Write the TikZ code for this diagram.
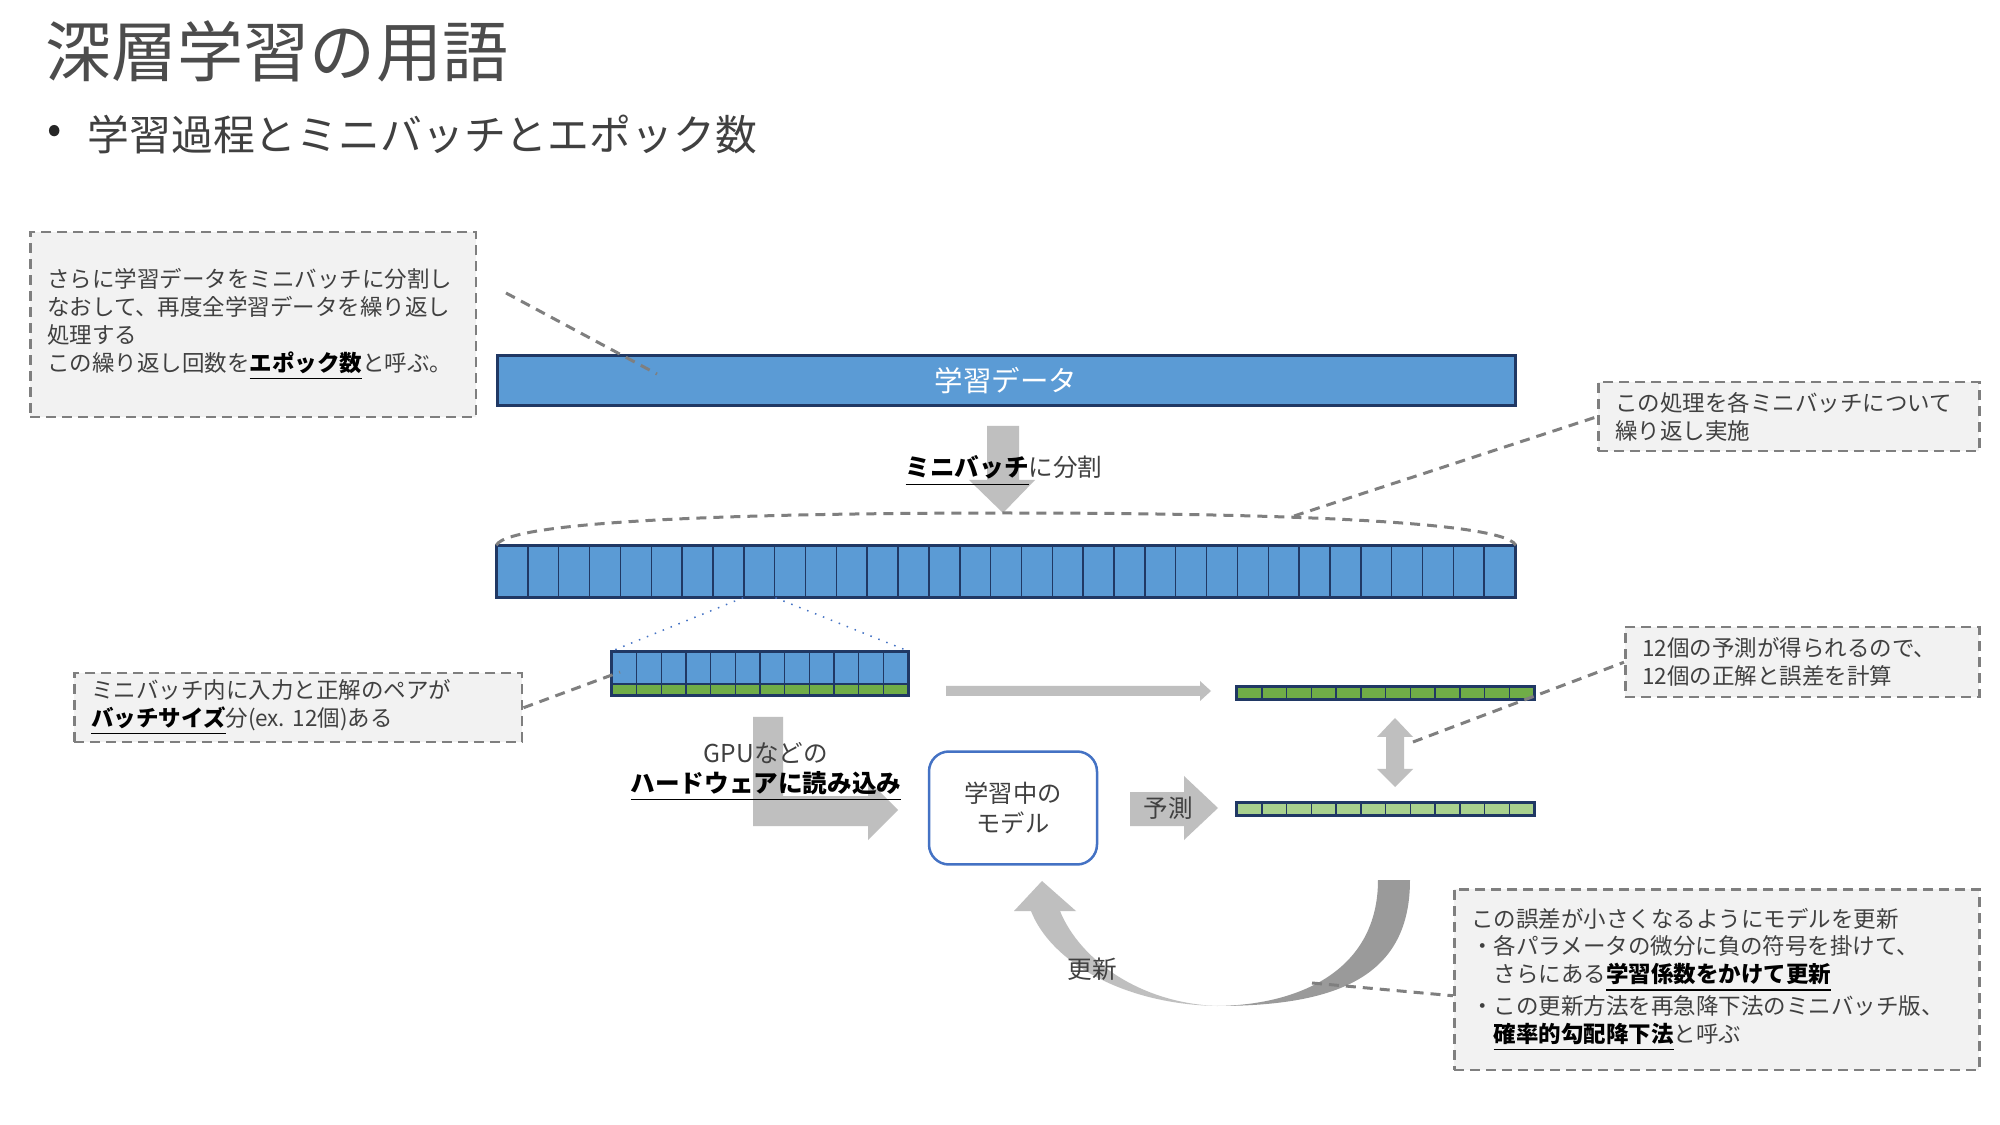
\documentclass[tikz,border=0pt]{standalone}
\usepackage{fontspec}
\setmainfont{Noto Sans CJK JP}
\usepackage{xcolor}
\usepackage{tikz}
\usetikzlibrary{positioning, calc}

\definecolor{barblue}{HTML}{5B9BD5}
\definecolor{barline}{HTML}{203864}
\definecolor{okgreen}{HTML}{70AD47}
\definecolor{predgreen}{HTML}{A9D18E}
\definecolor{arrowgray}{HTML}{BFBFBF}
\definecolor{arrowdark}{HTML}{9A9A9A}
\definecolor{notefill}{HTML}{F2F2F2}
\definecolor{noteline}{HTML}{7F7F7F}
\definecolor{modelblue}{HTML}{4472C4}
\definecolor{txt}{HTML}{404040}

\newcommand{\notefont}{\fontsize{6.4pt}{7.9pt}\selectfont}
\newcommand{\labelfont}{\fontsize{7pt}{8.5pt}\selectfont}
\newcommand{\kw}[1]{\textcolor{black}{\underline{\textbf{#1}}}}

\tikzset{
  notebox/.style={rectangle, draw=noteline, fill=notefill, line width=0.25mm,
                  dash pattern=on 1mm off 0.6mm, align=left, anchor=north west,
                  inner xsep=1.7mm, inner ysep=0mm, font=\notefont, text=txt},
  leader/.style={draw=noteline, line width=0.3mm, dash pattern=on 1mm off 0.7mm},
  cellB/.style={rectangle, draw=barline, fill=barblue, line width=0.15mm,
                inner sep=0, minimum width=3.085mm, minimum height=5.1mm},
  cellG/.style={cellB, fill=okgreen, minimum width=2.475mm, minimum height=1.2mm},
  cellP/.style={cellG, fill=predgreen},
  frame/.style={draw=barline, line width=0.3mm},
  blockarrow/.style={fill=arrowgray},
  lbl/.style={inner sep=0, font=\labelfont, text=txt, align=center},
}

\begin{document}
\begin{tikzpicture}[x=0.1mm, y=-0.1mm]

  \useasboundingbox (0,0) rectangle (2000,1125);
  \fill[white] (0,0) rectangle (2000,1125);

  % heading
  \node[anchor=west, inner sep=0, font=\fontsize{18.8pt}{22pt}\selectfont, text=black!70]
       (title) at (45,51) {深層学習の用語};
  \node[inner sep=0, font=\fontsize{12pt}{15pt}\selectfont, text=black!85] (dot) at (55,134) {•};
  \node[anchor=west, inner sep=0, font=\fontsize{11.9pt}{15pt}\selectfont, text=txt]
       (subtitle) at (87,134) {学習過程とミニバッチとエポック数};

  % whole training data
  \node[rectangle, frame, fill=barblue, minimum width=101.8mm, minimum height=4.9mm,
        text=white, font=\fontsize{8.1pt}{10pt}\selectfont] (data) at (1006,380.5) {学習データ};

  % split into mini batches
  \fill[blockarrow] (987,426) -- (1019,426) -- (1019,480) -- (1035,480) -- (1003,513)
                    -- (969,480) -- (987,480) -- cycle;
  \node[lbl] (splitlbl) at (1004,471) {\kw{ミニバッチ}に分割};

  \foreach \i in {0,...,32}
    \node[cellB] (b\i) at ({497+30.85*(\i+0.5)},571.5) {};
  \draw[frame] (b0.north west) rectangle (b32.south east);

  \draw[leader] (b0.north west) .. controls (510,518) and (800,513) .. (1006,513)
                .. controls (1212,513) and (1502,518) .. (b32.north east);

  % one mini batch: inputs and correct answers
  \foreach \i in {0,...,11} {
    \node[cellB, minimum width=2.467mm, minimum height=3.2mm] (m\i) at ({612+24.67*(\i+0.5)},668) {};
    \node[cellG, minimum width=2.467mm, minimum height=1.1mm] (g\i) at ({612+24.67*(\i+0.5)},689.5) {};
  }
  \draw[frame] (m0.north west) rectangle (g11.south east);

  \draw[modelblue, dotted, line width=0.15mm] (b8.south west) -- (m0.north west);
  \draw[modelblue, dotted, line width=0.15mm] (b8.south east) -- (m11.north east);

  % correct answers and predictions
  \foreach \i in {0,...,11} {
    \node[cellG] (a\i) at ({1237+24.75*(\i+0.5)},693) {};
    \node[cellP] (p\i) at ({1237+24.75*(\i+0.5)},809) {};
  }
  \draw[frame] (a0.north west) rectangle (a11.south east);
  \draw[frame] (p0.north west) rectangle (p11.south east);

  \fill[blockarrow] (946,686) -- (1200,686) -- (1200,681) -- (1211,691) -- (1200,701)
                    -- (1200,696) -- (946,696) -- cycle;
  \fill[blockarrow] (1395,718) -- (1413,737) -- (1404,737) -- (1404,769) -- (1413,769)
                    -- (1395,787) -- (1377,769) -- (1386,769) -- (1386,737) -- (1377,737) -- cycle;

  % load to hardware
  \fill[blockarrow] (753,717) -- (783,717) -- (783,796) -- (868,796) -- (868,780) -- (898,810)
                    -- (868,840) -- (868,826) -- (753,826) -- cycle;
  \node[lbl] (loadlbl) at (766,772) {GPUなどの\\\kw{ハードウェアに読み込み}};

  % model
  \node[rectangle, rounded corners=2mm, draw=modelblue, line width=0.25mm, fill=white,
        minimum width=16.8mm, minimum height=11.3mm, align=center,
        font=\fontsize{6.9pt}{8.3pt}\selectfont, text=txt] (model) at (1013,808) {学習中の\\モデル};

  \fill[blockarrow] (1130,792) -- (1184,792) -- (1184,776) -- (1218,808) -- (1184,840)
                    -- (1184,826) -- (1130,826) -- cycle;
  \node[lbl] (predlbl) at (1168,808) {予測};

  % update
  \fill[arrowdark] (1410,880) .. controls (1410,975) and (1340,1006) .. (1217,1006)
                   .. controls (1300,1005) and (1378,970) .. (1378,880) -- cycle;
  \fill[arrowgray] (1217,1006) .. controls (1120,1004) and (1050,960) .. (1031,911)
                   -- (1014,911) -- (1042,881) -- (1076,911) -- (1060,911)
                   .. controls (1080,960) and (1140,1003) .. (1217,1006) -- cycle;
  \node[lbl] (updlbl) at (1092,969) {更新};

  % notes
  \node[notebox, text width=41.2mm, minimum height=18.5mm] (epoch) at (29,231)
       {さらに学習データをミニバッチに分割し\\
        なおして、再度全学習データを繰り返し\\
        処理する\\
        この繰り返し回数を\kw{エポック数}と呼ぶ。};
  \node[notebox, text width=34.7mm, minimum height=6.9mm] (repeat) at (1597,381)
       {この処理を各ミニバッチについて\\繰り返し実施};
  \node[notebox, text width=41.4mm, minimum height=6.9mm] (pairs) at (73,672)
       {ミニバッチ内に入力と正解のペアが\\\kw{バッチサイズ}分(ex.\ 12個)ある};
  \node[notebox, text width=32mm, minimum height=7mm] (errors) at (1624,626)
       {12個の予測が得られるので、\\12個の正解と誤差を計算};
  \node[notebox, text width=49.1mm, minimum height=18.1mm] (sgd) at (1453,888)
       {この誤差が小さくなるようにモデルを更新\\
        ・各パラメータの微分に負の符号を掛けて、\\
        \hspace*{1em}さらにある\kw{学習係数をかけて更新}\\
        ・この更新方法を再急降下法のミニバッチ版、\\
        \hspace*{1em}\kw{確率的勾配降下法}と呼ぶ};

  % leader lines
  \coordinate (epochA) at (506,293);
  \coordinate (epochB) at (657,374);
  \coordinate (arcpt)  at (1294,516);
  \coordinate (minipt) at (620,672);
  \coordinate (cmppt)  at (1413,742);
  \coordinate (updpt)  at (1312,983);
  \draw[leader] (epochA) -- (epochB);
  \draw[leader] (arcpt) -- (repeat.west);
  \draw[leader] (pairs.east) -- (minipt);
  \draw[leader] (cmppt) -- (errors.west);
  \draw[leader] (updpt) -- ($(sgd.west)+(0,16)$);

\end{tikzpicture}
\end{document}
